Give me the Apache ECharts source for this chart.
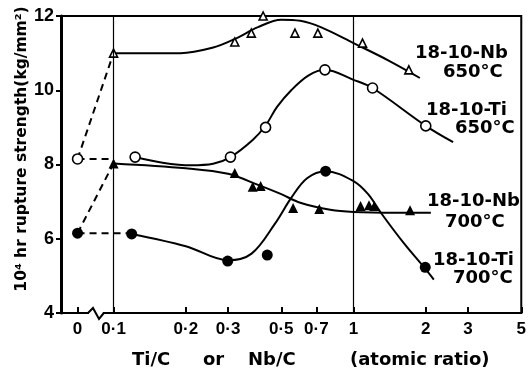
<!DOCTYPE html>
<html>
<head>
<meta charset="utf-8">
<script src="https://cdn.jsdelivr.net/npm/echarts@6/dist/echarts.min.js"></script>
<style>
  html, body { margin: 0; padding: 0; background: #fff; }
  #chart { width: 529px; height: 376px; }
</style>
</head>
<body>
<div id="chart"></div>
<script>
// x ticks (atomic ratio) and how they are printed
const tickValues = [0, 0.1, 0.2, 0.3, 0.5, 0.7, 1, 2, 3, 5];
const tickLabels = ['0', '0·1', '0·2', '0·3', '0·5', '0·7', '1', '2', '3', '5'];

// 18-10-Nb 650°C : measured points and fitted curve
const nb650X = [0.1, 0.32, 0.375, 0.42, 0.57, 0.71, 1.09, 1.7];
const nb650Y = [11.0, 11.3, 11.54, 12.0, 11.54, 11.54, 11.27, 10.55];
const nb650CurveX = [0.1, 0.19, 0.26, 0.32, 0.4, 0.5, 0.6, 0.73, 1.0, 1.4, 1.89];
const nb650CurveY = [11.0, 11.0, 11.15, 11.38, 11.7, 11.9, 11.87, 11.7, 11.27, 10.8, 10.33];

// 18-10-Ti 650°C
const ti650X = [0, 0.123, 0.307, 0.43, 0.76, 1.2, 2.0];
const ti650Y = [8.15, 8.2, 8.2, 9.0, 10.55, 10.06, 9.04];
const ti650CurveX = [0.123, 0.16, 0.21, 0.26, 0.307, 0.38, 0.43, 0.48, 0.55, 0.65, 0.76, 1.0, 1.2, 2.0, 2.6];
const ti650CurveY = [8.2, 8.05, 7.98, 8.02, 8.2, 8.66, 9.05, 9.55, 10.0, 10.4, 10.55, 10.28, 10.06, 9.04, 8.6];

// 18-10-Nb 700°C
const nb700X = [0.1, 0.32, 0.38, 0.41, 0.56, 0.72, 1.07, 1.16, 1.22, 1.72];
const nb700Y = [8.03, 7.77, 7.4, 7.42, 6.83, 6.8, 6.88, 6.9, 6.88, 6.77];
const nb700CurveX = [0.1, 0.2, 0.3, 0.4, 0.5, 0.6, 0.8, 1.0, 1.5, 2.1];
const nb700CurveY = [8.03, 7.9, 7.75, 7.45, 7.2, 6.97, 6.78, 6.72, 6.7, 6.7];

// 18-10-Ti 700°C
const ti700X = [0, 0.119, 0.299, 0.437, 0.765, 1.99];
const ti700Y = [6.15, 6.13, 5.4, 5.56, 7.82, 5.23];
const ti700CurveX = [0.119, 0.2, 0.3, 0.376, 0.47, 0.55, 0.64, 0.765, 1.0, 1.15, 1.3, 1.62, 1.95, 2.16];
const ti700CurveY = [6.13, 5.8, 5.42, 5.6, 6.4, 7.1, 7.63, 7.82, 7.55, 7.2, 6.7, 5.88, 5.26, 4.9];

// dashed links from the unstabilised steel (ratio 0)
const dash650FlatX = [0, 0.1], dash650FlatY = [8.15, 8.15];
const dash650RiseX = [0, 0.1], dash650RiseY = [8.15, 11.0];
const dash700FlatX = [0, 0.119], dash700FlatY = [6.15, 6.15];
const dash700RiseX = [0, 0.1], dash700RiseY = [6.15, 8.03];

// log10 scale, with ratio 0 put left of the axis break
const ZERO_AT = -1.15;
function tx(v) {
    return v === 0 ? ZERO_AT : Math.log10(v);
}
function pairs(xs, ys) {
    return xs.map(function (x, i) { return [tx(x), ys[i]]; });
}

const tickFont = '"Liberation Sans Narrow", "Liberation Sans", sans-serif';
const textFont = '"DejaVu Sans", sans-serif';

function curve(xs, ys) {
    return {
        type: 'line', data: pairs(xs, ys), smooth: 0.35, symbol: 'none', z: 2,
        lineStyle: { color: '#000', width: 2 }
    };
}
function dashed(xs, ys) {
    return {
        type: 'line', data: pairs(xs, ys), symbol: 'none', z: 2,
        lineStyle: { color: '#000', width: 2, type: [7, 5] }
    };
}
function points(xs, ys, symbol, size, filled) {
    return {
        type: 'scatter', data: pairs(xs, ys), symbol: symbol, symbolSize: size, z: 3,
        itemStyle: { color: filled ? '#000' : '#fff', borderColor: '#000', borderWidth: filled ? 0 : 1.6, opacity: 1 }
    };
}

const chart = echarts.init(document.getElementById('chart'));

const vertical = curve(nb650CurveX, nb650CurveY);
vertical.markLine = {
    silent: true, symbol: ['none', 'none'], label: { show: false },
    lineStyle: { color: '#000', width: 1.2, type: 'solid' },
    data: [{ xAxis: tx(0.1) }, { xAxis: tx(1) }]
};

const labelPlaces = [
    ['18-10-Nb', 415, 53], ['650°C', 443, 72],
    ['18-10-Ti', 426, 110], ['650°C', 455, 128],
    ['18-10-Nb', 427, 201], ['700°C', 445, 222],
    ['18-10-Ti', 433, 260], ['700°C', 453, 278]
];

const graphics = labelPlaces.map(function (p) {
    return {
        type: 'text', x: p[1], y: p[2], z: 10,
        style: { text: p[0], font: 'bold 18px ' + textFont, fill: '#000',
                 textAlign: 'left', textVerticalAlign: 'middle' }
    };
});
graphics.push({
    type: 'text', x: 22, y: 149, rotation: Math.PI / 2, z: 10,
    style: { text: '10⁴ hr rupture strength(kg/mm²)', font: 'bold 15.5px ' + textFont, fill: '#000',
             textAlign: 'center', textVerticalAlign: 'middle' }
});
[['Ti/C', 132], ['or', 203], ['Nb/C', 248], ['(atomic ratio)', 350]].forEach(function (p) {
    graphics.push({
        type: 'text', x: p[1], y: 360, z: 10,
        style: { text: p[0], font: 'bold 18px ' + textFont, fill: '#000',
                 textAlign: 'left', textVerticalAlign: 'middle' }
    });
});

chart.setOption({
    animation: false,
    grid: { left: 61, right: 4, top: 16, bottom: 63, show: true, borderColor: '#000', borderWidth: 2 },
    xAxis: {
        type: 'value', min: -1.219, max: Math.log10(5),
        axisLine: { show: true, onZero: false, lineStyle: { color: '#000', width: 2 } },
        axisTick: { show: true, inside: true, length: 6, lineStyle: { color: '#000', width: 2 },
                    customValues: tickValues.map(tx) },
        axisLabel: {
            customValues: tickValues.map(tx), margin: 8,
            color: '#000', fontFamily: tickFont, fontWeight: 'bold', fontSize: 17,
            formatter: function (v) {
                let best = 0;
                tickValues.forEach(function (t, i) {
                    if (Math.abs(tx(t) - v) < Math.abs(tx(tickValues[best]) - v)) best = i;
                });
                return tickLabels[best];
            }
        },
        splitLine: { show: false }
    },
    yAxis: {
        type: 'value', min: 4, max: 12, interval: 2,
        axisLine: { show: true, onZero: false, lineStyle: { color: '#000', width: 3 } },
        axisTick: { show: true, inside: false, length: 5, lineStyle: { color: '#000', width: 2 } },
        axisLabel: { color: '#000', fontFamily: tickFont, fontWeight: 'bold', fontSize: 18, margin: 7 },
        splitLine: { show: false }
    },
    series: [
        vertical,
        curve(ti650CurveX, ti650CurveY),
        curve(nb700CurveX, nb700CurveY),
        curve(ti700CurveX, ti700CurveY),
        dashed(dash650FlatX, dash650FlatY),
        dashed(dash650RiseX, dash650RiseY),
        dashed(dash700FlatX, dash700FlatY),
        dashed(dash700RiseX, dash700RiseY),
        points(nb650X, nb650Y, 'triangle', 8, false),
        points(ti650X, ti650Y, 'circle', 10, false),
        points(nb700X, nb700Y, 'triangle', 10, true),
        points(ti700X, ti700Y, 'circle', 11, true)
    ],
    graphic: graphics
});

// axis break between 0 and 0.1
const p0 = chart.convertToPixel({ gridIndex: 0 }, [tx(0), 4]);
const p1 = chart.convertToPixel({ gridIndex: 0 }, [tx(0.1), 4]);
const d = p1[0] - p0[0];
const a = p0[0] + 0.29 * d, b = p0[0] + 0.73 * d, y = p0[1];
graphics.push({
    type: 'rect', z: 20, shape: { x: a + 1, y: y - 3, width: b - a - 2, height: 6 },
    style: { fill: '#fff' }
});
graphics.push({
    type: 'polyline', z: 21,
    shape: { points: [[a, y], [a + 5, y - 5], [a + 11, y + 6], [b, y]] },
    style: { stroke: '#000', lineWidth: 2, fill: null }
});
chart.setOption({ graphic: graphics });
</script>
</body>
</html>
